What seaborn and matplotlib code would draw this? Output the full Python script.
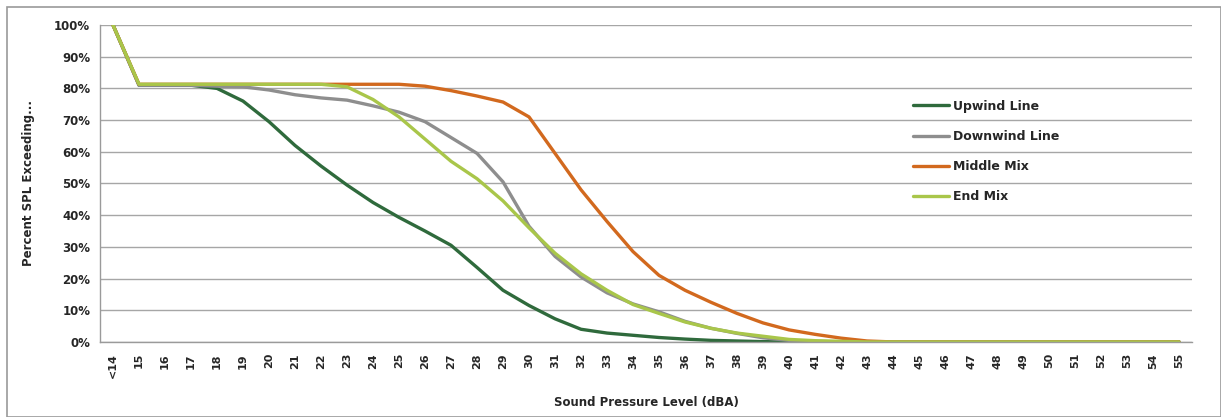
import pandas as pd
import numpy as np
import matplotlib.pyplot as plt
import matplotlib.ticker as mticker
import seaborn as sns
from matplotlib.patches import Rectangle

# ------------------------------------------------------------------
# Data (percent of time SPL exceeded)
# ------------------------------------------------------------------
levels = ["<14"] + [str(v) for v in range(15, 56)]

upwind = [100, 81, 81, 81, 80, 76, 69.5, 62, 55.5, 49.5, 44, 39.3, 35, 30.5, 23.5, 16.3,
          11.5, 7.3, 4, 2.8, 2.1, 1.4, 0.9, 0.5, 0.3, 0.1, 0, 0, 0, 0, 0, 0,
          0, 0, 0, 0, 0, 0, 0, 0, 0, 0]
downwind = [100, 81, 81, 81, 80.7, 80.5, 79.5, 78, 77, 76.3, 74.5, 72.5, 69.5, 64.5, 59.5, 50.5,
            36.5, 27, 20.5, 15.5, 12, 9.5, 6.5, 4.3, 2.7, 1.3, 0.5, 0.2, 0, 0, 0, 0,
            0, 0, 0, 0, 0, 0, 0, 0, 0, 0]
middle_mix = [100, 81.3, 81.3, 81.3, 81.3, 81.3, 81.3, 81.3, 81.3, 81.3, 81.3, 81.3, 80.7, 79.3, 77.6, 75.7,
              71, 59.5, 48, 38, 28.5, 21, 16.3, 12.5, 9, 6, 3.8, 2.4, 1.2, 0.3, 0, 0,
              0, 0, 0, 0, 0, 0, 0, 0, 0, 0]
end_mix = [100, 81.3, 81.3, 81.3, 81.3, 81.3, 81.3, 81.3, 81.3, 80.5, 76.5, 71, 64, 57, 51.5, 44.5,
           36, 28, 21.5, 16.3, 11.8, 9, 6.3, 4.3, 2.8, 1.8, 0.8, 0.4, 0.2, 0, 0, 0,
           0, 0, 0, 0, 0, 0, 0, 0, 0, 0]

series_names = ["Upwind Line", "Downwind Line", "Middle Mix", "End Mix"]
series_colors = ["#2F6A3C", "#8E8E8E", "#D2691E", "#A9C64A"]

df = pd.DataFrame({"level": levels,
                   "Upwind Line": upwind,
                   "Downwind Line": downwind,
                   "Middle Mix": middle_mix,
                   "End Mix": end_mix})
long_df = df.melt(id_vars="level", var_name="series", value_name="pct")
long_df["pct"] = long_df["pct"] / 100.0

# ------------------------------------------------------------------
# Plot
# ------------------------------------------------------------------
sns.set_style("white")
plt.rcParams["font.family"] = ["DejaVu Sans"]

fig = plt.figure(figsize=(12.21, 4.17), dpi=100)
ax = fig.add_axes([0.0819, 0.180, 0.8944, 0.760])

sns.lineplot(data=long_df, x="level", y="pct", hue="series",
             hue_order=series_names, palette=series_colors,
             linewidth=2.4, ax=ax, sort=False)

ax.set_xlim(-0.5, len(levels) - 0.5)
ax.set_ylim(0, 1)
ax.yaxis.set_major_locator(mticker.MultipleLocator(0.1))
ax.yaxis.set_major_formatter(mticker.PercentFormatter(1.0, decimals=0))

# Excel-style category ticks between labels
ax.set_xticks(np.arange(len(levels)))
ax.set_xticklabels(levels, rotation=90, fontsize=8, fontweight="bold")
ax.set_xticks(np.arange(len(levels) + 1) - 0.5, minor=True)
ax.tick_params(axis="x", which="major", length=0, pad=8)
ax.tick_params(axis="x", which="minor", length=4, color="#9A9A9A", width=1)
ax.tick_params(axis="y", which="major", length=4, color="#9A9A9A", width=1,
               labelsize=8.5, pad=3)
for lbl in ax.get_yticklabels():
    lbl.set_fontweight("bold")

ax.grid(axis="y", color="#A6A6A6", linewidth=1)
ax.grid(axis="x", visible=False)
for side in ["top", "right"]:
    ax.spines[side].set_visible(False)
for side in ["left", "bottom"]:
    ax.spines[side].set_color("#9A9A9A")
    ax.spines[side].set_linewidth(1)

ax.set_xlabel("Sound Pressure Level (dBA)", fontsize=8.5, fontweight="bold", labelpad=13)
ax.set_ylabel("Percent SPL Exceeding...", fontsize=8.5, fontweight="bold", labelpad=14)

leg = ax.legend(loc="upper left", bbox_to_anchor=(0.74, 0.78), frameon=False,
                fontsize=9, handlelength=2.9, handletextpad=0.3, labelspacing=1.38,
                borderaxespad=0)
for txt in leg.get_texts():
    txt.set_fontweight("bold")

# outer chart border
fig.patches.append(Rectangle((0.0057, 0.0), 0.994, 0.983, transform=fig.transFigure,
                             fill=False, edgecolor="#9A9A9A", linewidth=1.2))

plt.savefig("out.png", dpi=100)
plt.close()
